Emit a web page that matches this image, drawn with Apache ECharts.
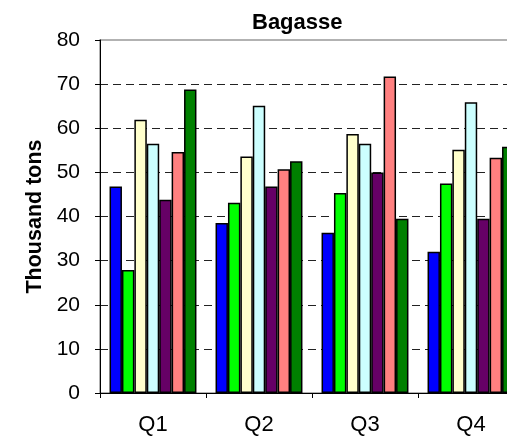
<!DOCTYPE html>
<html>
<head>
<meta charset="utf-8">
<script src="https://cdn.jsdelivr.net/npm/echarts@6/dist/echarts.min.js"></script>
<style>
html,body{margin:0;padding:0;background:#fff;}
#chart{width:507px;height:443px;}
</style>
</head>
<body>
<div id="chart"></div>
<script>
var categories = ['Q1', 'Q2', 'Q3', 'Q4'];
var blueVals = [46.8, 38.5, 36.3, 32.0];
var greenVals = [27.9, 43.1, 45.3, 47.5];
var yellowVals = [61.9, 53.6, 58.7, 55.1];
var cyanVals = [56.5, 65.1, 56.5, 65.9];
var purpleVals = [43.8, 46.8, 50.0, 39.5];
var salmonVals = [54.6, 50.7, 71.7, 53.3];
var darkGreenVals = [68.8, 52.5, 39.5, 55.8];
var yTicks = [0, 10, 20, 30, 40, 50, 60, 70, 80];

var seriesData = [blueVals, greenVals, yellowVals, cyanVals, purpleVals, salmonVals, darkGreenVals];
var colors = ['#0000FF', '#00FF00', '#FFFFCC', '#CCFFFF', '#660066', '#FF8080', '#008000'];
var font = '"Liberation Sans", Arial, sans-serif';

var chart = echarts.init(document.getElementById('chart'), null, {renderer: 'canvas'});
var option = {
  animation: false,
  backgroundColor: '#fff',
  title: {
    text: 'Bagasse',
    left: 247,
    top: 7,
    textStyle: {fontFamily: font, fontSize: 22, fontWeight: 'bold', color: '#000'}
  },
  grid: {
    left: 100, top: 40, width: 424, height: 353,
    outerBoundsMode: 'none',
    containLabel: false,
    show: true, borderColor: '#999', borderWidth: 1.5, backgroundColor: 'transparent'
  },
  xAxis: {
    type: 'category',
    data: categories,
    axisLine: {lineStyle: {color: '#000', width: 1}},
    axisTick: {show: true, length: 5, lineStyle: {color: '#000'}},
    axisLabel: {fontFamily: font, fontSize: 22, color: '#000', margin: 21},
    splitLine: {show: false}
  },
  yAxis: {
    type: 'value',
    min: yTicks[0], max: yTicks[yTicks.length - 1], interval: 10,
    name: 'Thousand tons',
    nameLocation: 'middle',
    nameGap: 54,
    nameTextStyle: {fontFamily: font, fontSize: 21.5, fontWeight: 'bold', color: '#000'},
    axisLine: {show: true, lineStyle: {color: '#000', width: 1}},
    axisTick: {show: true, length: 5, lineStyle: {color: '#000'}},
    axisLabel: {fontFamily: font, fontSize: 21, color: '#000', margin: 20},
    splitLine: {show: true, showMaxLine: false, showMinLine: false, lineStyle: {color: '#222', type: [8, 5], width: 1}}
  },
  series: seriesData.map(function (d, i) {
    return {
      type: 'bar',
      data: d,
      barGap: '0%',
      barCategoryGap: '18%',
      itemStyle: {color: colors[i], borderColor: '#000', borderWidth: 1.5}
    };
  })
};
chart.setOption(option);
</script>
</body>
</html>
